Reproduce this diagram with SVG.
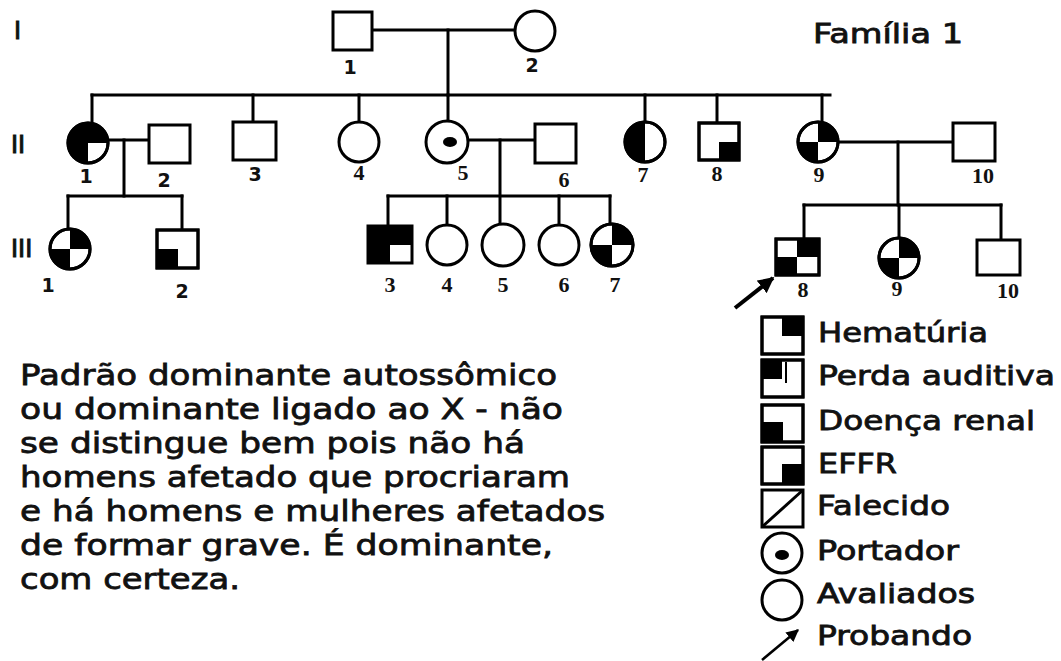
<svg xmlns="http://www.w3.org/2000/svg" width="1061" height="661" viewBox="0 0 1061 661">
<defs>
<style>
.ln{stroke:#000;stroke-width:3;fill:none;stroke-linecap:square}
.sym{fill:#fff;stroke:#000;stroke-width:3}
.blk{fill:#000;stroke:none}
.gen{font-family:"DejaVu Sans",Verdana,sans-serif;font-weight:normal;font-size:24px;fill:#111;stroke:#111;stroke-width:1}
.ns{font-family:"DejaVu Sans",Verdana,sans-serif;font-weight:bold;font-size:19px;fill:#111;text-anchor:middle}
.nr{font-family:"Liberation Serif","Times New Roman",serif;font-weight:bold;font-size:22px;fill:#111;text-anchor:middle}
.lg{font-family:"DejaVu Sans",Verdana,sans-serif;font-weight:normal;font-size:26px;fill:#111;stroke:#111;stroke-width:0.8}
.pt{font-family:"DejaVu Sans",Verdana,sans-serif;font-weight:normal;font-size:29px;fill:#111;stroke:#111;stroke-width:0.8}
</style>
<marker id="ah" viewBox="0 0 10 10" refX="9" refY="5" markerWidth="4" markerHeight="4" orient="auto" markerUnits="strokeWidth">
<path d="M0,0 L10,5 L0,10 Z" fill="#000"/>
</marker>
<marker id="ah2" viewBox="0 0 10 10" refX="9" refY="5" markerWidth="5" markerHeight="5" orient="auto" markerUnits="strokeWidth">
<path d="M0,0 L10,5 L0,10 Z" fill="#000"/>
</marker>
</defs>
<rect width="1061" height="661" fill="#fff"/>

<g id="generation-labels">
<text class="gen" x="14" y="39">I</text>
<text class="gen" x="11" y="153">II</text>
<text class="gen" x="11" y="257">III</text>
</g>

<g id="connectors">
<line class="ln" x1="372" y1="30" x2="515" y2="30"/>
<line class="ln" x1="448" y1="30" x2="448" y2="95"/>
<line class="ln" x1="92" y1="95" x2="830" y2="95"/>
<line class="ln" x1="92" y1="95" x2="92" y2="123"/>
<line class="ln" x1="253" y1="95" x2="253" y2="122"/>
<line class="ln" x1="359" y1="95" x2="359" y2="122"/>
<line class="ln" x1="448" y1="95" x2="448" y2="121"/>
<line class="ln" x1="645" y1="95" x2="645" y2="122"/>
<line class="ln" x1="717" y1="95" x2="717" y2="123"/>
<line class="ln" x1="822" y1="95" x2="822" y2="122"/>
<line class="ln" x1="108" y1="140" x2="149" y2="140"/>
<line class="ln" x1="124" y1="140" x2="124" y2="196"/>
<line class="ln" x1="68" y1="196" x2="182" y2="196"/>
<line class="ln" x1="68" y1="196" x2="68" y2="229"/>
<line class="ln" x1="182" y1="196" x2="182" y2="230"/>
<line class="ln" x1="467" y1="140" x2="535" y2="140"/>
<line class="ln" x1="500" y1="140" x2="500" y2="225"/>
<line class="ln" x1="388" y1="196" x2="610" y2="196"/>
<line class="ln" x1="388" y1="196" x2="388" y2="226"/>
<line class="ln" x1="447" y1="196" x2="447" y2="225"/>
<line class="ln" x1="559" y1="196" x2="559" y2="225"/>
<line class="ln" x1="610" y1="196" x2="610" y2="225"/>
<line class="ln" x1="838" y1="142" x2="953" y2="142"/>
<line class="ln" x1="898" y1="142" x2="898" y2="205"/>
<line class="ln" x1="804" y1="205" x2="1001" y2="205"/>
<line class="ln" x1="804" y1="205" x2="804" y2="239"/>
<line class="ln" x1="899" y1="205" x2="899" y2="238"/>
<line class="ln" x1="1001" y1="205" x2="1001" y2="240"/>
</g>

<g id="I-1"><rect class="sym" x="333" y="12" width="39" height="38"/><text class="ns" x="350" y="74">1</text></g>
<g id="I-2"><circle class="sym" cx="535" cy="31" r="20"/><text class="ns" x="532" y="72">2</text></g>

<g id="II-1"><circle class="sym" cx="88" cy="143" r="20"/><path class="blk" d="M88,143 H108 A20,20 0 1 0 88,163 Z"/><circle cx="88" cy="143" r="20" fill="none" stroke="#000" stroke-width="3"/><text class="ns" x="86" y="183">1</text></g>
<g id="II-2"><rect class="sym" x="149" y="125" width="41" height="38"/><text class="ns" x="164" y="187">2</text></g>
<g id="II-3"><rect class="sym" x="233" y="122" width="43" height="38"/><text class="ns" x="255" y="181">3</text></g>
<g id="II-4"><circle class="sym" cx="359" cy="142" r="20"/><text class="nr" x="359" y="180">4</text></g>
<g id="II-5"><circle class="sym" cx="447" cy="142" r="21"/><ellipse class="blk" cx="450" cy="142" rx="7" ry="5"/><text class="nr" x="463" y="180">5</text></g>
<g id="II-6"><rect class="sym" x="535" y="124" width="41" height="39"/><text class="nr" x="564" y="187">6</text></g>
<g id="II-7"><circle class="sym" cx="645" cy="142" r="20"/><path class="blk" d="M645,122 A20,20 0 0 0 645,162 Z"/><circle cx="645" cy="142" r="20" fill="none" stroke="#000" stroke-width="3"/><text class="nr" x="643" y="182">7</text></g>
<g id="II-8"><rect class="sym" x="699" y="123" width="40" height="37"/><rect class="blk" x="719" y="142" width="20" height="18"/><rect x="699" y="123" width="40" height="37" fill="none" stroke="#000" stroke-width="3"/><text class="nr" x="717" y="181">8</text></g>
<g id="II-9"><circle class="sym" cx="818" cy="142" r="20"/><path class="blk" d="M818,142 V122 A20,20 0 0 1 838,142 Z M818,142 V162 A20,20 0 0 1 798,142 Z"/><circle cx="818" cy="142" r="20" fill="none" stroke="#000" stroke-width="3"/><text class="nr" x="819" y="182">9</text></g>
<g id="II-10"><rect class="sym" x="953" y="123" width="42" height="38"/><text class="nr" x="983" y="183">10</text></g>

<g id="III-1"><circle class="sym" cx="70" cy="249" r="20"/><path class="blk" d="M70,249 V229 A20,20 0 0 1 90,249 Z M70,249 V269 A20,20 0 0 1 50,249 Z"/><circle cx="70" cy="249" r="20" fill="none" stroke="#000" stroke-width="3"/><text class="ns" x="48" y="292">1</text></g>
<g id="III-2"><rect class="sym" x="157" y="230" width="41" height="38"/><rect class="blk" x="157" y="249" width="21" height="19"/><rect x="157" y="230" width="41" height="38" fill="none" stroke="#000" stroke-width="3"/><text class="ns" x="182" y="298">2</text></g>
<g id="III-3"><rect class="blk" x="368" y="226" width="44" height="37"/><rect x="390" y="245" width="22" height="18" fill="#fff"/><rect x="368" y="226" width="44" height="37" fill="none" stroke="#000" stroke-width="3"/><text class="nr" x="390" y="292">3</text></g>
<g id="III-4"><circle class="sym" cx="447" cy="245" r="20"/><text class="nr" x="447" y="292">4</text></g>
<g id="III-5"><circle class="sym" cx="503" cy="245" r="21"/><text class="nr" x="503" y="292">5</text></g>
<g id="III-6"><circle class="sym" cx="559" cy="245" r="20"/><text class="nr" x="564" y="292">6</text></g>
<g id="III-7"><circle class="sym" cx="612" cy="245" r="21"/><path class="blk" d="M612,245 V224 A21,21 0 0 1 633,245 Z M612,245 V266 A21,21 0 0 1 591,245 Z"/><circle cx="612" cy="245" r="21" fill="none" stroke="#000" stroke-width="3"/><text class="nr" x="615" y="292">7</text></g>
<g id="III-8"><rect class="sym" x="776" y="239" width="43" height="36"/><rect class="blk" x="797" y="239" width="22" height="18"/><rect class="blk" x="776" y="257" width="21" height="18"/><rect x="776" y="239" width="43" height="36" fill="none" stroke="#000" stroke-width="3"/><text class="nr" x="803" y="297">8</text></g>
<g id="III-9"><circle class="sym" cx="899" cy="258" r="20"/><path class="blk" d="M899,258 V238 A20,20 0 0 1 919,258 Z M899,258 V278 A20,20 0 0 1 879,258 Z"/><circle cx="899" cy="258" r="20" fill="none" stroke="#000" stroke-width="3"/><text class="nr" x="897" y="296">9</text></g>
<g id="III-10"><rect class="sym" x="977" y="240" width="43" height="35"/><text class="nr" x="1008" y="298">10</text></g>
<g id="proband-arrow"><line x1="735" y1="308" x2="773" y2="278" stroke="#000" stroke-width="4" marker-end="url(#ah)"/></g>

<g id="title"><text class="lg" x="813" y="43" font-size="28" textLength="150" lengthAdjust="spacingAndGlyphs">Família 1</text></g>

<g id="legend">
<g id="lg-hematuria"><rect class="sym" x="762" y="317" width="41" height="37"/><rect class="blk" x="782" y="317" width="21" height="19"/><rect x="762" y="317" width="41" height="37" fill="none" stroke="#000" stroke-width="3"/><text class="lg" x="818" y="342" textLength="170" lengthAdjust="spacingAndGlyphs">Hematúria</text></g>
<g id="lg-perda"><rect class="sym" x="762" y="360" width="41" height="37"/><rect class="blk" x="762" y="360" width="20" height="19"/><line x1="786" y1="362" x2="786" y2="383" stroke="#000" stroke-width="2"/><rect x="762" y="360" width="41" height="37" fill="none" stroke="#000" stroke-width="3"/><text class="lg" x="818" y="385" textLength="237" lengthAdjust="spacingAndGlyphs">Perda auditiva</text></g>
<g id="lg-doenca"><rect class="sym" x="762" y="405" width="41" height="37"/><rect class="blk" x="762" y="422" width="21" height="20"/><rect x="762" y="405" width="41" height="37" fill="none" stroke="#000" stroke-width="3"/><text class="lg" x="818" y="430" textLength="217" lengthAdjust="spacingAndGlyphs">Doença renal</text></g>
<g id="lg-effr"><rect class="sym" x="762" y="447" width="41" height="37"/><rect class="blk" x="782" y="464" width="21" height="20"/><rect x="762" y="447" width="41" height="37" fill="none" stroke="#000" stroke-width="3"/><text class="lg" x="818" y="473" textLength="79" lengthAdjust="spacingAndGlyphs">EFFR</text></g>
<g id="lg-falecido"><rect class="sym" x="762" y="490" width="41" height="37"/><line x1="762" y1="527" x2="803" y2="490" stroke="#000" stroke-width="3"/><text class="lg" x="817" y="515" textLength="133" lengthAdjust="spacingAndGlyphs">Falecido</text></g>
<g id="lg-portador"><circle class="sym" cx="782" cy="553" r="20"/><ellipse class="blk" cx="782" cy="555" rx="7" ry="5"/><text class="lg" x="817" y="560" textLength="142" lengthAdjust="spacingAndGlyphs">Portador</text></g>
<g id="lg-avaliados"><circle class="sym" cx="782" cy="600" r="20"/><text class="lg" x="817" y="603" textLength="158" lengthAdjust="spacingAndGlyphs">Avaliados</text></g>
<g id="lg-probando"><line x1="762" y1="660" x2="798" y2="630" stroke="#000" stroke-width="2.5" marker-end="url(#ah2)"/><text class="lg" x="817" y="645" textLength="155" lengthAdjust="spacingAndGlyphs">Probando</text></g>
</g>

<g id="note">
<text class="pt" x="20" y="385" textLength="537" lengthAdjust="spacingAndGlyphs">Padrão dominante autossômico</text>
<text class="pt" x="20" y="419" textLength="543" lengthAdjust="spacingAndGlyphs">ou dominante ligado ao X - não</text>
<text class="pt" x="20" y="453" textLength="505" lengthAdjust="spacingAndGlyphs">se distingue bem pois não há</text>
<text class="pt" x="20" y="487" textLength="550" lengthAdjust="spacingAndGlyphs">homens afetado que procriaram</text>
<text class="pt" x="20" y="521" textLength="585" lengthAdjust="spacingAndGlyphs">e há homens e mulheres afetados</text>
<text class="pt" x="20" y="555" textLength="533" lengthAdjust="spacingAndGlyphs">de formar grave. É dominante,</text>
<text class="pt" x="20" y="589" textLength="220" lengthAdjust="spacingAndGlyphs">com certeza.</text>
</g>
</svg>
